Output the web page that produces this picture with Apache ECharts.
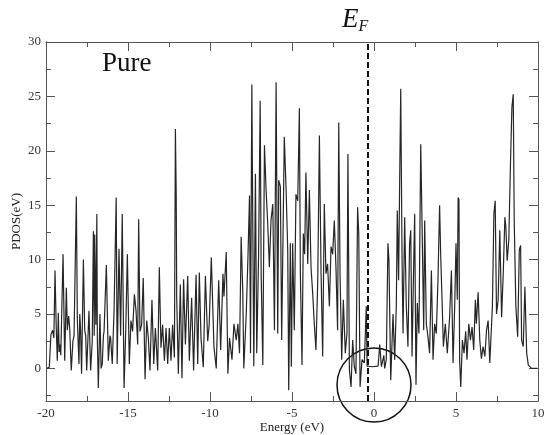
<!DOCTYPE html>
<html>
<head>
<meta charset="utf-8">
<script src="https://cdn.jsdelivr.net/npm/echarts@6/dist/echarts.min.js"></script>
<style>
html,body{margin:0;padding:0;background:#fff;}
#c{width:544px;height:435px;}
</style>
</head>
<body>
<div id="c"></div>
<script>
// Energy (eV) and PDOS values
var energy = [
-19.95,-19.8,-19.7,-19.6,-19.52,-19.45,-19.38,-19.31,-19.25,-19.2,-19.15,-19.1,-18.96,-18.86,-18.76,-18.7,-18.62,-18.56,-18.46,-18.36,-18.29,-18.15,-18.09,-17.99,-17.94,-17.89,-17.83,-17.72,-17.64,-17.58,-17.52,-17.45,-17.38,-17.28,-17.18,-17.11,-17.06,-17.03,-16.96,-16.9,-16.87,-16.81,-16.71,-16.64,-16.57,-16.5,-16.46,-16.32,-16.2,-16.1,-16.06,-15.96,-15.85,-15.72,-15.66,-15.55,-15.45,-15.35,-15.24,-15.14,-15.04,
-14.92,-14.82,-14.72,-14.61,-14.51,-14.41,-14.35,-14.27,-14.17,-14.07,-13.96,-13.86,-13.76,-13.66,-13.54,-13.43,-13.33,-13.19,-13.09,-12.99,-12.89,-12.78,-12.68,-12.58,-12.48,-12.38,-12.28,-12.17,-12.11,-12.06,-12.03,-11.93,-11.81,-11.71,-11.61,-11.5,-11.36,-11.26,-11.12,-11.0,-10.85,-10.75,-10.65,-10.55,-10.41,-10.28,-10.14,-10.05,
-9.92,-9.76,-9.62,-9.47,-9.35,-9.21,-9.15,-9.01,-8.91,-8.81,-8.66,-8.54,-8.4,-8.3,-8.2,-8.1,-8.0,-7.94,-7.79,-7.69,-7.59,-7.53,-7.45,-7.39,-7.33,-7.23,-7.15,-7.04,-6.94,-6.88,-6.78,-6.68,-6.58,-6.48,-6.38,-6.28,-6.17,-6.07,-5.97,-5.87,-5.81,-5.71,-5.63,-5.47,-5.36,-5.26,-5.2,-5.1,-5.04,
-4.96,-4.86,-4.76,-4.65,-4.55,-4.49,-4.39,-4.31,-4.23,-4.15,-4.04,-3.94,-3.84,-3.74,-3.64,-3.54,-3.43,-3.33,-3.23,-3.13,-3.03,-2.93,-2.83,-2.72,-2.62,-2.52,-2.42,-2.32,-2.22,-2.15,-2.07,-1.97,-1.87,-1.75,-1.65,-1.59,-1.5,-1.4,-1.3,-1.2,-1.1,-1.0,-0.93,-0.85,-0.73,-0.59,-0.47,-0.42,-0.1,0.25,0.35,0.45,0.6,0.65,0.75,0.85,0.91,
1.02,1.16,1.26,1.36,1.42,1.5,1.57,1.63,1.71,1.77,1.87,1.97,2.07,2.17,2.24,2.32,2.42,2.48,2.56,2.64,2.74,2.85,2.93,3.03,3.09,3.19,3.29,3.39,3.5,3.6,3.7,3.8,3.9,4.0,4.07,4.15,4.23,4.35,4.47,4.61,4.72,4.82,4.92,
5.0,5.08,5.13,5.18,5.22,5.29,5.39,5.49,5.59,5.67,5.78,5.88,5.98,6.08,6.18,6.24,6.35,6.45,6.55,6.65,6.76,6.86,6.96,7.06,7.22,7.31,7.39,7.47,7.57,7.67,7.78,7.88,7.98,8.04,8.12,8.22,8.33,8.41,8.49,8.55,8.65,8.76,8.86,8.94,9.0,9.1,9.2,9.31,9.41,9.61,9.95
];
var pdos = [
0,0.1,3.1,3.5,2.8,9,4,0.7,5.1,1.5,2.2,1.2,10.5,0.7,7.4,3.5,4.8,3.8,-0.2,2.5,3,15.8,4.5,0.4,5,3.5,-0.5,10,3.5,3,-0.2,2.5,5.3,-0.2,2.5,12.6,3,12.3,4,14.2,2.8,-1.8,5,0,0.4,3,3.4,9.5,0.7,3,2.8,0.4,5.3,15.7,0.4,11,3,14.2,-1.8,3.4,10.5,
0.4,4.4,3.4,6.8,5.3,2.2,13.7,3.4,4,8.3,-1,4.4,2.8,-0.2,6.3,0.4,3.7,-0.2,9.3,1.9,4,0.7,3.7,0.4,3.7,0.7,4,1,22,16,6.5,-0.5,7.7,-0.9,8.2,2.2,8.5,0.7,6.5,-0.2,8.6,0.4,8.8,2.8,0.1,8.5,2.5,4,
10.2,2,0,8.1,1.7,8.7,6.6,10.7,-0.5,2.8,0.8,4.1,2.6,4.1,1.4,12.1,6.9,0,5,10,15.9,1.4,26.1,13,0.2,17.9,1.4,10.2,24.6,8.7,0.3,20.5,16.4,13.3,9.3,13.6,15.1,3.5,26.3,3.2,17.3,16.7,2.6,21.3,16.4,10.9,-2,11.5,0.15,
11.5,3.5,16,15.4,23.9,8.7,0.3,12.4,10.5,18,9.6,16.4,9.3,6.9,4.1,1.7,8.1,21.4,9,1.1,15.1,8.7,9.6,5.7,11.2,10.5,13.6,9.3,3.5,22.6,8.7,0.8,6.3,1.4,3.2,19.7,-0.15,-1.7,2.6,0.15,-0.5,14.8,12.4,-1.7,0.8,0.5,5.7,0.2,0.15,0.2,2.2,0.15,1.2,0,0.8,11.5,10,
-1.1,5,0.8,5.7,14.5,8.1,17.9,25.7,10.2,3.2,13.9,5.7,2,11.5,12.7,1.1,9.6,14.2,-1.5,6,3.2,20.6,13.3,3.5,13.6,4.1,2.9,1.4,9,0.8,4.1,3.2,8.1,15,10.2,6.3,2,4.1,1.4,4.7,9,0.5,5.7,
11.5,6.3,15.7,15.5,0.8,-1.7,2.6,1.4,3.4,0.8,4.1,2.6,3.8,1.7,6.3,4.1,7,2.6,0.9,2,1.1,3.5,4.4,0.5,5.7,14.2,15.4,5,6.3,12.7,4.7,8.7,13.9,13,9.9,11.8,19.4,24,25.2,13.6,5.7,2.9,10.9,11.3,2.6,2,7.5,1.4,0.3,0,0
];
var xTicks = [-20,-15,-10,-5,0,5,10];
var yMajor = [0,5,10,15,20,25,30];
var yMinor = [-2.5,2.5,7.5,12.5,17.5,22.5,27.5];
var fermiLevel = -0.37;

var seriesData = energy.map(function(e,i){return [e,pdos[i]];});

var serif = '"Liberation Serif","DejaVu Serif",serif';
var axisColor = '#555';
var labelStyle = {color:'#333', fontFamily:serif, fontSize:13};

function xAxisDef(pos, showLabel){
  return {
    type:'value', position:pos, min:-20, max:10, interval:5,
    axisLine:{show:true, onZero:false, lineStyle:{color:axisColor, width:1}},
    axisTick:{show:true, inside:true, length:9, lineStyle:{color:axisColor}},
    minorTick:{show:true, splitNumber:2, length:5, lineStyle:{color:axisColor}},
    axisLabel:Object.assign({show:showLabel, margin:6}, labelStyle),
    splitLine:{show:false}, minorSplitLine:{show:false},
    name: showLabel ? 'Energy (eV)' : '',
    nameLocation:'middle', nameGap:20, nameMoveOverlap:false,
    nameTextStyle:{color:'#222', fontFamily:serif, fontSize:13}
  };
}
function yAxisDef(pos, values, len, showLabel, withName){
  return {
    type:'value', position:pos, min:-3, max:30,
    axisLine:{show:true, onZero:false, lineStyle:{color:axisColor, width:1}},
    axisTick:{show:true, inside:true, length:len, customValues:values, lineStyle:{color:axisColor}},
    axisLabel:Object.assign({show:showLabel, margin:5, customValues:values}, labelStyle),
    splitLine:{show:false},
    name: withName ? 'PDOS(eV)' : '',
    nameLocation:'middle', nameGap:23, nameMoveOverlap:false,
    nameTextStyle:{color:'#222', fontFamily:serif, fontSize:13}
  };
}

var chart = echarts.init(document.getElementById('c'));
chart.setOption({
  animation:false,
  backgroundColor:'#fff',
  grid:{left:46, right:6, top:42, bottom:34, containLabel:false, outerBoundsMode:'none'},
  xAxis:[xAxisDef('bottom', true), xAxisDef('top', false)],
  yAxis:[
    yAxisDef('left', yMajor, 9, true, true),
    yAxisDef('left', yMinor, 5, false, false),
    yAxisDef('right', yMajor, 9, false, false),
    yAxisDef('right', yMinor, 5, false, false)
  ],
  series:[{
    type:'line', data:seriesData, xAxisIndex:0, yAxisIndex:0,
    showSymbol:false, symbol:'none',
    lineStyle:{color:'#262626', width:1.2},
    markLine:{
      silent:true, symbol:'none', label:{show:false},
      lineStyle:{color:'#111', width:2, type:[6,3]},
      data:[{xAxis:fermiLevel}]
    }
  }],
  graphic:[
    {type:'text', left:102, top:50, style:{text:'Pure', font:'27px "Liberation Serif", serif', fill:'#111'}},
    {type:'text', left:342, top:6, style:{
      text:'{e|E}{f|F}',
      rich:{
        e:{font:'italic 27px "Liberation Serif", serif', fill:'#111', verticalAlign:'bottom'},
        f:{font:'italic 16px "Liberation Serif", serif', fill:'#111', verticalAlign:'bottom', padding:[0,0,-2,0]}
      }
    }},
    {type:'circle', shape:{cx:374, cy:385, r:37}, style:{fill:'none', stroke:'#111', lineWidth:1.5}}
  ]
});
</script>
</body>
</html>
